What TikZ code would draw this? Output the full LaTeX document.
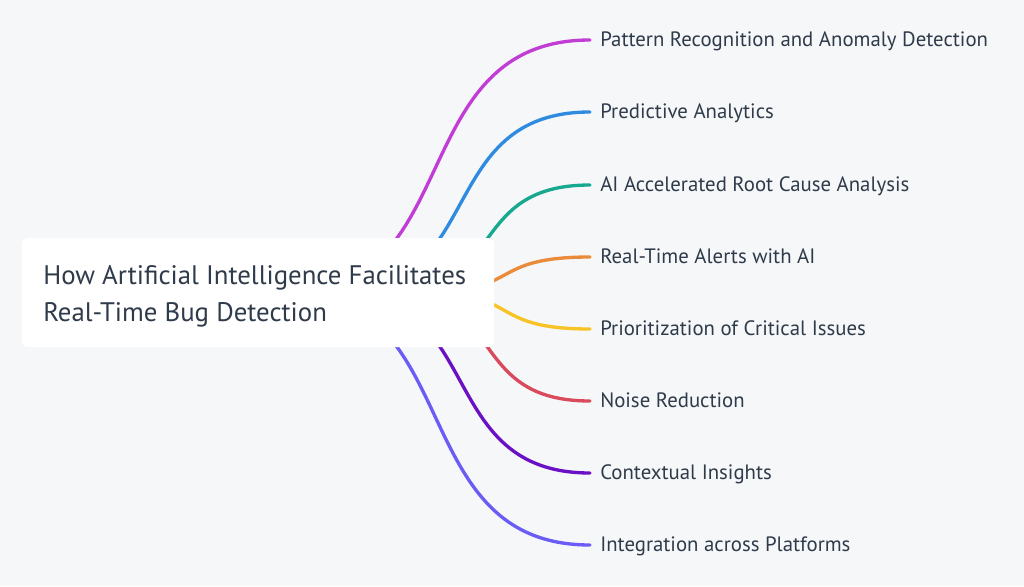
\documentclass[tikz,border=0pt]{standalone}
\usepackage{fontspec}
\setmainfont{PT Sans}
\definecolor{bg}{HTML}{F6F7F9}
\definecolor{txt}{HTML}{2F3B4A}
\definecolor{cA}{HTML}{C13DD6}
\definecolor{cB}{HTML}{2F8BE0}
\definecolor{cC}{HTML}{17A98F}
\definecolor{cD}{HTML}{EA8A3B}
\definecolor{cE}{HTML}{F7C325}
\definecolor{cF}{HTML}{D84A5C}
\definecolor{cG}{HTML}{6B10C4}
\definecolor{cH}{HTML}{6B5CF5}
\begin{document}
\begin{tikzpicture}[x=0.75pt,y=-0.75pt,
  branch/.style={line width=2.5pt,line cap=round},
  leaf/.style={anchor=base west,inner sep=0pt,text=txt,font=\fontsize{15.6pt}{18pt}\selectfont},
  titletext/.style={anchor=base west,inner sep=0pt,text=txt,font=\fontsize{20.1pt}{27pt}\selectfont},
  rootbox/.style={draw=none,fill=white,rounded corners=4.5pt,minimum width=354pt,minimum height=81.75pt,inner sep=0pt}]
\fill[bg] (0,0) rectangle (1024,586);
\useasboundingbox (0,0) rectangle (1024,586);
% start points (hidden behind the root box)
\coordinate (s1) at (289,292.5);
\coordinate (s2) at (338,292.5);
\coordinate (s3) at (389,292.5);
\coordinate (s4) at (424,292.5);
\coordinate (s5) at (424,292.5);
\coordinate (s6) at (389,292.5);
\coordinate (s7) at (338,292.5);
\coordinate (s8) at (289,292.5);
% end points
\coordinate (e1) at (590,40);
\coordinate (e2) at (590,112);
\coordinate (e3) at (590,185);
\coordinate (e4) at (590,257);
\coordinate (e5) at (590,329);
\coordinate (e6) at (590,401);
\coordinate (e7) at (590,473);
\coordinate (e8) at (590,545);
\draw[branch,cA] (s1) .. controls (466.6,292.5) and (403.4,40) .. (e1);
\draw[branch,cB] (s2) .. controls (486.7,292.5) and (433.8,112) .. (e2);
\draw[branch,cC] (s3) .. controls (507.6,292.5) and (465.4,185) .. (e3);
\draw[branch,cD] (s4) .. controls (521.9,292.5) and (486.7,257) .. (e4);
\draw[branch,cE] (s5) .. controls (521.9,292.5) and (486.7,329) .. (e5);
\draw[branch,cF] (s6) .. controls (507.6,292.5) and (465.4,401) .. (e6);
\draw[branch,cG] (s7) .. controls (486.7,292.5) and (433.8,473) .. (e7);
\draw[branch,cH] (s8) .. controls (466.6,292.5) and (403.4,545) .. (e8);
\node[rootbox] (root) at (258,292.5) {};
\node[titletext] (t1) at (43,284.5) {How Artificial Intelligence Facilitates};
\node[titletext] (t2) at (43,321) {Real-Time Bug Detection};
\node[leaf] (l1) at (600,46) {Pattern Recognition and Anomaly Detection};
\node[leaf] (l2) at (600,118) {Predictive Analytics};
\node[leaf] (l3) at (600,191) {AI Accelerated Root Cause Analysis};
\node[leaf] (l4) at (600,263) {Real-Time Alerts with AI};
\node[leaf] (l5) at (600,335) {Prioritization of Critical Issues};
\node[leaf] (l6) at (600,407) {Noise Reduction};
\node[leaf] (l7) at (600,479) {Contextual Insights};
\node[leaf] (l8) at (600,551) {Integration across Platforms};
\end{tikzpicture}
\end{document}
